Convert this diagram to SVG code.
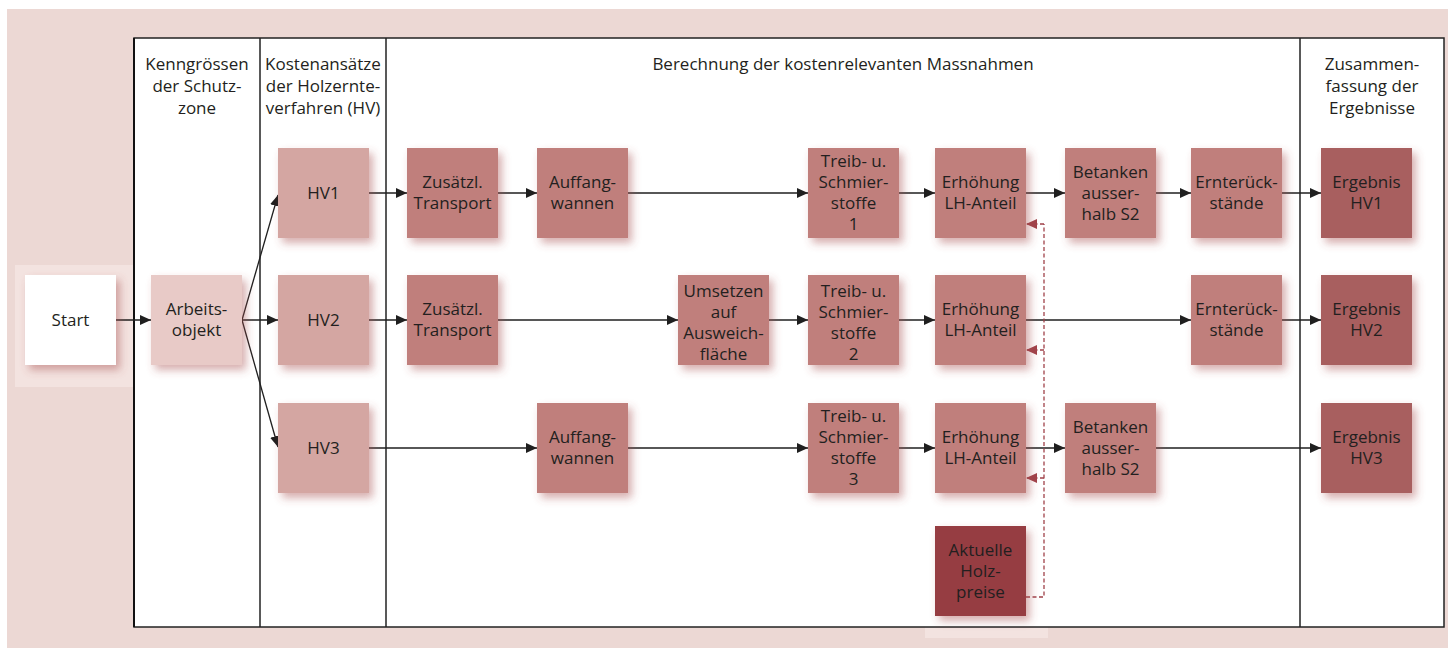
<svg xmlns="http://www.w3.org/2000/svg" width="1448" height="648" viewBox="0 0 1448 648">
<style>
  text { font-family: "Open Sans", "Noto Sans", "Liberation Sans", sans-serif; font-size: 17px; fill: #231f20; text-anchor: middle; }
  .box { filter: url(#sh); }
  .c0 { fill: #ffffff; }
  .c1 { fill: #e8cac7; }
  .c2 { fill: #d4a6a2; }
  .c3 { fill: #c07f7c; }
  .c4 { fill: #a85e5e; }
  .c5 { fill: #963e42; }
  .arr { stroke: #1f1f1f; stroke-width: 1.3; fill: none; marker-end: url(#ah); }
  .dash { stroke: #a0424a; stroke-width: 1.3; fill: none; stroke-dasharray: 4 2.5; }
  .dasharr { stroke: #a0424a; stroke-width: 1.3; fill: none; stroke-dasharray: 4 2.5; marker-end: url(#ahr); }
  .frame { stroke: #222; stroke-width: 1.5; fill: none; }
</style>
<defs>
  <filter id="sh" x="-20%" y="-20%" width="150%" height="150%">
    <feDropShadow dx="4" dy="5" stdDeviation="4" flood-color="#a44a4a" flood-opacity="0.45"/>
  </filter>
  <marker id="ah" markerUnits="userSpaceOnUse" markerWidth="11" markerHeight="10" refX="11" refY="5" orient="auto">
    <path d="M0,0 L11,5 L0,10 z" fill="#1f1f1f"/>
  </marker>
  <marker id="ahr" markerUnits="userSpaceOnUse" markerWidth="11" markerHeight="10" refX="11" refY="5" orient="auto">
    <path d="M0,0 L11,5 L0,10 z" fill="#a0424a"/>
  </marker>
</defs>

<!-- background -->
<rect x="7" y="9" width="1441" height="639" fill="#ecd8d4"/>
<rect x="15" y="265" width="119" height="122" fill="#f3e3e0"/>
<rect x="925" y="627" width="123" height="11" fill="#f3e3e0"/>
<rect x="134" y="38" width="1310" height="589" fill="#ffffff"/>

<!-- frame -->
<g id="frame">
  <rect class="frame" x="134" y="38" width="1310" height="589"/>
  <line class="frame" x1="260" y1="38" x2="260" y2="627"/>
  <line class="frame" x1="386" y1="38" x2="386" y2="627"/>
  <line class="frame" x1="1300" y1="38" x2="1300" y2="627"/>
  <line x1="134" y1="38" x2="134" y2="627" stroke="#111" stroke-width="2"/>
</g>

<!-- headers -->
<g id="headers">
  <text x="197" y="70">Kenngrössen</text>
  <text x="197" y="92">der Schutz-</text>
  <text x="197" y="114">zone</text>
  <text x="323" y="70">Kostenansätze</text>
  <text x="323" y="92">der Holzernte-</text>
  <text x="323" y="114">verfahren (HV)</text>
  <text x="843" y="70">Berechnung der kostenrelevanten Massnahmen</text>
  <text x="1372" y="70">Zusammen-</text>
  <text x="1372" y="92">fassung der</text>
  <text x="1372" y="114">Ergebnisse</text>
</g>

<!-- connectors -->
<g id="connectors">
  <line class="arr" x1="116" y1="320" x2="151" y2="320"/>
  <line class="arr" x1="242" y1="320" x2="278" y2="195"/>
  <line class="arr" x1="242" y1="320" x2="278" y2="320"/>
  <line class="arr" x1="242" y1="320" x2="278" y2="447"/>
  <!-- row 1 -->
  <line class="arr" x1="369" y1="193" x2="407" y2="193"/>
  <line class="arr" x1="498" y1="193" x2="537" y2="193"/>
  <line class="arr" x1="628" y1="193" x2="808" y2="193"/>
  <line class="arr" x1="899" y1="193" x2="935" y2="193"/>
  <line class="arr" x1="1026" y1="193" x2="1065" y2="193"/>
  <line class="arr" x1="1156" y1="193" x2="1191" y2="193"/>
  <line class="arr" x1="1282" y1="193" x2="1321" y2="193"/>
  <!-- row 2 -->
  <line class="arr" x1="369" y1="320" x2="407" y2="320"/>
  <line class="arr" x1="498" y1="320" x2="678" y2="320"/>
  <line class="arr" x1="769" y1="320" x2="808" y2="320"/>
  <line class="arr" x1="899" y1="320" x2="935" y2="320"/>
  <line class="arr" x1="1026" y1="320" x2="1191" y2="320"/>
  <line class="arr" x1="1282" y1="320" x2="1321" y2="320"/>
  <!-- row 3 -->
  <line class="arr" x1="369" y1="448" x2="537" y2="448"/>
  <line class="arr" x1="628" y1="448" x2="808" y2="448"/>
  <line class="arr" x1="899" y1="448" x2="935" y2="448"/>
  <line class="arr" x1="1026" y1="448" x2="1065" y2="448"/>
  <line class="arr" x1="1156" y1="448" x2="1321" y2="448"/>
  <!-- dashed price feedback -->
  <path class="dash" d="M1026,597 H1044 V224"/>
  <line class="dasharr" x1="1044" y1="224" x2="1026" y2="224"/>
  <line class="dasharr" x1="1044" y1="350" x2="1026" y2="350"/>
  <line class="dasharr" x1="1044" y1="478" x2="1026" y2="478"/>
</g>

<!-- nodes -->
<g id="start"><rect class="box c0" x="25" y="275" width="91" height="90"/><text x="70.5" y="326">Start</text></g>
<g id="arbeitsobjekt"><rect class="box c1" x="151" y="275" width="91" height="90"/><text x="196.5" y="315">Arbeits-</text><text x="196.5" y="336">objekt</text></g>

<g id="hv1"><rect class="box c2" x="278" y="148" width="91" height="90"/><text x="323.5" y="199">HV1</text></g>
<g id="hv2"><rect class="box c2" x="278" y="275" width="91" height="90"/><text x="323.5" y="326">HV2</text></g>
<g id="hv3"><rect class="box c2" x="278" y="403" width="91" height="90"/><text x="323.5" y="454">HV3</text></g>

<g id="transport1"><rect class="box c3" x="407" y="148" width="91" height="90"/><text x="452.5" y="188">Zusätzl.</text><text x="452.5" y="209">Transport</text></g>
<g id="auffang1"><rect class="box c3" x="537" y="148" width="91" height="90"/><text x="582.5" y="188">Auffang-</text><text x="582.5" y="209">wannen</text></g>
<g id="treib1"><rect class="box c3" x="808" y="148" width="91" height="90"/><text x="853.5" y="167">Treib- u.</text><text x="853.5" y="188">Schmier-</text><text x="853.5" y="209">stoffe</text><text x="853.5" y="230">1</text></g>
<g id="erhoehung1"><rect class="box c3" x="935" y="148" width="91" height="90"/><text x="980.5" y="188">Erhöhung</text><text x="980.5" y="209">LH-Anteil</text></g>
<g id="betanken1"><rect class="box c3" x="1065" y="148" width="91" height="90"/><text x="1110.5" y="178">Betanken</text><text x="1110.5" y="199">ausser-</text><text x="1110.5" y="220">halb S2</text></g>
<g id="ernte1"><rect class="box c3" x="1191" y="148" width="91" height="90"/><text x="1236.5" y="188">Ernterück-</text><text x="1236.5" y="209">stände</text></g>
<g id="ergebnis1"><rect class="box c4" x="1321" y="148" width="91" height="90"/><text x="1366.5" y="188">Ergebnis</text><text x="1366.5" y="209">HV1</text></g>

<g id="transport2"><rect class="box c3" x="407" y="275" width="91" height="90"/><text x="452.5" y="315">Zusätzl.</text><text x="452.5" y="336">Transport</text></g>
<g id="umsetzen2"><rect class="box c3" x="678" y="275" width="91" height="90"/><text x="723.5" y="297">Umsetzen</text><text x="723.5" y="318">auf</text><text x="723.5" y="339">Ausweich-</text><text x="723.5" y="360">fläche</text></g>
<g id="treib2"><rect class="box c3" x="808" y="275" width="91" height="90"/><text x="853.5" y="297">Treib- u.</text><text x="853.5" y="318">Schmier-</text><text x="853.5" y="339">stoffe</text><text x="853.5" y="360">2</text></g>
<g id="erhoehung2"><rect class="box c3" x="935" y="275" width="91" height="90"/><text x="980.5" y="315">Erhöhung</text><text x="980.5" y="336">LH-Anteil</text></g>
<g id="ernte2"><rect class="box c3" x="1191" y="275" width="91" height="90"/><text x="1236.5" y="315">Ernterück-</text><text x="1236.5" y="336">stände</text></g>
<g id="ergebnis2"><rect class="box c4" x="1321" y="275" width="91" height="90"/><text x="1366.5" y="315">Ergebnis</text><text x="1366.5" y="336">HV2</text></g>

<g id="auffang3"><rect class="box c3" x="537" y="403" width="91" height="90"/><text x="582.5" y="443">Auffang-</text><text x="582.5" y="464">wannen</text></g>
<g id="treib3"><rect class="box c3" x="808" y="403" width="91" height="90"/><text x="853.5" y="422">Treib- u.</text><text x="853.5" y="443">Schmier-</text><text x="853.5" y="464">stoffe</text><text x="853.5" y="485">3</text></g>
<g id="erhoehung3"><rect class="box c3" x="935" y="403" width="91" height="90"/><text x="980.5" y="443">Erhöhung</text><text x="980.5" y="464">LH-Anteil</text></g>
<g id="betanken3"><rect class="box c3" x="1065" y="403" width="91" height="90"/><text x="1110.5" y="433">Betanken</text><text x="1110.5" y="454">ausser-</text><text x="1110.5" y="475">halb S2</text></g>
<g id="ergebnis3"><rect class="box c4" x="1321" y="403" width="91" height="90"/><text x="1366.5" y="443">Ergebnis</text><text x="1366.5" y="464">HV3</text></g>

<g id="holzpreise"><rect class="box c5" x="935" y="526" width="91" height="90"/><text x="980.5" y="556">Aktuelle</text><text x="980.5" y="577">Holz-</text><text x="980.5" y="598">preise</text></g>
</svg>
